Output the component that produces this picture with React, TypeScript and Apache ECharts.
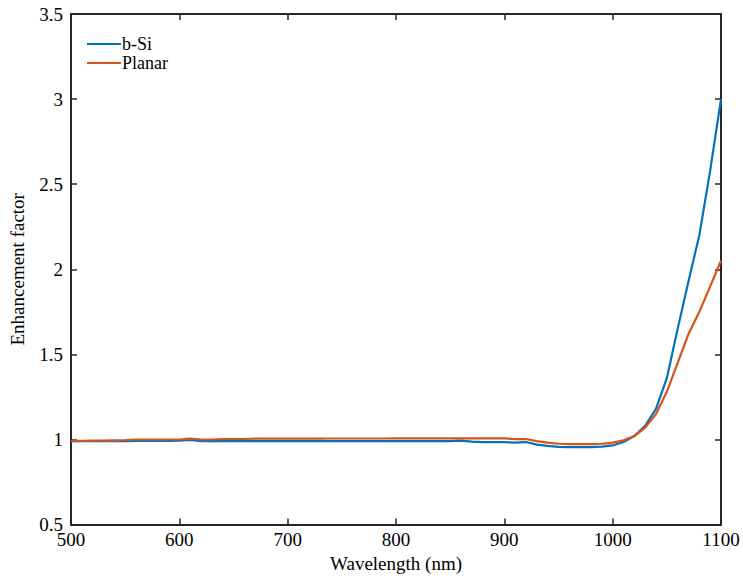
import React, { useEffect, useRef } from "react";
import * as echarts from "echarts";

const wavelengths: number[] = [
  500, 510, 520, 530, 540, 550, 560, 570, 580, 590,
  600, 610, 620, 630, 640, 650, 660, 670, 680, 690,
  700, 710, 720, 730, 740, 750, 760, 770, 780, 790,
  800, 810, 820, 830, 840, 850, 860, 870, 880, 890,
  900, 910, 920, 930, 940, 950, 960, 970, 980, 990,
  1000, 1010, 1020, 1030, 1040, 1050, 1060, 1070, 1080, 1090, 1100,
];

const bSi: number[] = [
  0.99, 0.99, 0.99, 0.99, 0.99, 0.99, 0.992, 0.992, 0.992, 0.992,
  0.993, 0.997, 0.99, 0.99, 0.99, 0.99, 0.99, 0.99, 0.99, 0.99,
  0.99, 0.99, 0.99, 0.99, 0.99, 0.99, 0.99, 0.99, 0.99, 0.99,
  0.99, 0.99, 0.99, 0.99, 0.99, 0.99, 0.993, 0.988, 0.985, 0.985,
  0.984, 0.982, 0.985, 0.97, 0.963, 0.957, 0.955, 0.955, 0.955, 0.958,
  0.965, 0.985, 1.02, 1.08, 1.18, 1.36, 1.65, 1.93, 2.2, 2.58, 3.0,
];

const planar: number[] = [
  0.99, 0.992, 0.993, 0.993, 0.995, 0.997, 1.0, 1.0, 1.0, 1.0,
  1.0, 1.005, 1.0, 1.0, 1.002, 1.003, 1.003, 1.005, 1.005, 1.005,
  1.005, 1.005, 1.005, 1.005, 1.006, 1.006, 1.006, 1.006, 1.006, 1.006,
  1.007, 1.007, 1.007, 1.007, 1.007, 1.007, 1.007, 1.007, 1.007, 1.007,
  1.007, 1.002, 1.003, 0.99, 0.982, 0.975, 0.973, 0.973, 0.973, 0.975,
  0.982, 0.995, 1.02, 1.07, 1.15, 1.28, 1.45, 1.62, 1.75, 1.9, 2.05,
];

const xTicks = { min: 500, max: 1100, interval: 100 };
const yTicks = { min: 0.5, max: 3.5, interval: 0.5 };

const FONT = "'Times New Roman', 'Liberation Serif', 'DejaVu Serif', serif";
const AXIS_COLOR = "#262626";

export default function App() {
  const ref = useRef<HTMLDivElement>(null);
  useEffect(() => {
    document.body.style.margin = "0";
    if (!ref.current) return;
    const chart = echarts.init(ref.current, undefined, { renderer: "svg" });
    const axisLine = { show: true, lineStyle: { color: AXIS_COLOR, width: 2 } };
    const tick = { show: true, inside: true, length: 6, lineStyle: { color: AXIS_COLOR, width: 1.5 } };
    const label = { fontFamily: FONT, fontSize: 19, color: "#000", lineHeight: 14 };
    chart.setOption({
      animation: false,
      backgroundColor: "#fff",
      textStyle: { fontFamily: FONT },
      grid: { left: 66, right: 22, top: 14, bottom: 48, containLabel: false },
      legend: {
        orient: "vertical",
        left: 82,
        top: 30,
        itemWidth: 34,
        itemHeight: 2,
        itemGap: 1,
        icon: "rect",
        textStyle: { fontFamily: FONT, fontSize: 18, color: "#000", lineHeight: 18, padding: [0, 0, 0, -4] },
        data: ["b-Si", "Planar"],
      },
      xAxis: [
        {
          type: "value",
          ...xTicks,
          position: "bottom",
          name: "Wavelength (nm)",
          nameLocation: "middle",
          nameGap: 26,
          nameTextStyle: { fontFamily: FONT, fontSize: 19, color: "#000" },
          axisLine,
          axisTick: tick,
          axisLabel: { ...label, margin: 8, formatter: (v: number) => String(v) },
          splitLine: { show: false },
        },
        {
          type: "value",
          ...xTicks,
          position: "top",
          axisLine,
          axisTick: tick,
          axisLabel: { show: false },
          splitLine: { show: false },
        },
      ],
      yAxis: [
        {
          type: "value",
          ...yTicks,
          position: "left",
          name: "Enhancement factor",
          nameLocation: "middle",
          nameGap: 44,
          nameTextStyle: { fontFamily: FONT, fontSize: 19, color: "#000" },
          axisLine,
          axisTick: tick,
          axisLabel: { ...label, margin: 8, formatter: (v: number) => String(v) },
          splitLine: { show: false },
        },
        {
          type: "value",
          ...yTicks,
          position: "right",
          axisLine,
          axisTick: tick,
          axisLabel: { show: false },
          splitLine: { show: false },
        },
      ],
      series: [
        {
          name: "b-Si",
          type: "line",
          data: wavelengths.map((w, i) => [w, bSi[i]]),
          showSymbol: false,
          lineStyle: { color: "#0072BD", width: 2.2 },
          itemStyle: { color: "#0072BD" },
        },
        {
          name: "Planar",
          type: "line",
          data: wavelengths.map((w, i) => [w, planar[i]]),
          showSymbol: false,
          lineStyle: { color: "#D95319", width: 2.2 },
          itemStyle: { color: "#D95319" },
        },
      ],
    });
    return () => chart.dispose();
  }, []);
  return <div ref={ref} style={{ width: 743, height: 578 }} />;
}
